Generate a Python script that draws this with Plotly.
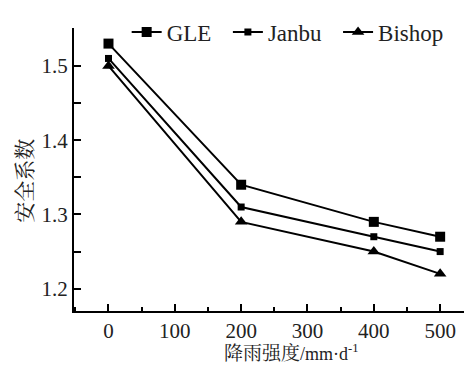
import plotly.graph_objects as go

rain = [0, 200, 400, 500]
gle = [1.53, 1.34, 1.29, 1.27]
janbu = [1.51, 1.31, 1.27, 1.25]
bishop = [1.50, 1.29, 1.25, 1.22]
xticks = [0, 100, 200, 300, 400, 500]
yticks = [1.2, 1.3, 1.4, 1.5]

FONT = "Liberation Serif, 'Noto Serif CJK SC', 'Noto Sans CJK SC', serif"
NB = "\u00a0"

fig = go.Figure()
fig.add_trace(go.Scatter(x=rain, y=gle, name="GLE" + NB * 2, mode="lines+markers",
                         line=dict(color="black", width=2),
                         marker=dict(symbol="square", size=10, color="black")))
fig.add_trace(go.Scatter(x=rain, y=janbu, name="Janbu" + NB * 2, mode="lines+markers",
                         line=dict(color="black", width=2),
                         marker=dict(symbol="square", size=7, color="black")))
fig.add_trace(go.Scatter(x=rain, y=bishop, name="Bishop", mode="lines+markers",
                         line=dict(color="black", width=2),
                         marker=dict(symbol="triangle-up", size=11, color="black")))

fig.update_layout(
    width=464, height=357,
    margin=dict(l=66, r=2, t=8, b=54),
    paper_bgcolor="white", plot_bgcolor="white",
    font=dict(family=FONT, size=21, color="#222"),
    showlegend=True,
    legend=dict(orientation="h", x=0.133, y=1.062, xanchor="left", yanchor="top",
                bgcolor="rgba(0,0,0,0)", font=dict(size=23, family=FONT),
                itemwidth=30, tracegroupgap=0),
    annotations=[
        dict(text="降雨强度<span style='font-size:18px'>/mm·d<sup>-1</sup></span>",
             xref="paper", yref="paper", x=0.548, y=-0.146, xanchor="center", yanchor="middle",
             showarrow=False, font=dict(size=19, family=FONT)),
        dict(text="安全系数", xref="paper", yref="paper", x=-0.126, y=0.461,
             xanchor="center", yanchor="middle", textangle=-90,
             showarrow=False, font=dict(size=21, family=FONT)),
    ],
)
fig.update_xaxes(
    range=[-52, 545], tickmode="array", tickvals=xticks,
    ticktext=[str(v) for v in xticks], automargin=False,
    showline=True, linecolor="black", linewidth=2, mirror=False,
    showgrid=False, zeroline=False,
    ticks="inside", ticklen=7, tickwidth=2, tickcolor="black",
    minor=dict(ticks="inside", ticklen=4, tickwidth=2, tickcolor="black", dtick=50, tick0=0),
    tickfont=dict(size=21),
)
fig.update_yaxes(
    range=[1.17, 1.551], tickmode="array", tickvals=yticks,
    ticktext=["1.2", "1.3", "1.4", "1.5"], automargin=False,
    showline=True, linecolor="black", linewidth=2, mirror=False,
    showgrid=False, zeroline=False,
    ticks="inside", ticklen=7, tickwidth=2, tickcolor="black",
    minor=dict(ticks="inside", ticklen=7, tickwidth=2, tickcolor="black", dtick=0.05, tick0=1.2),
    tickfont=dict(size=21),
)

fig.write_html("out.html")
